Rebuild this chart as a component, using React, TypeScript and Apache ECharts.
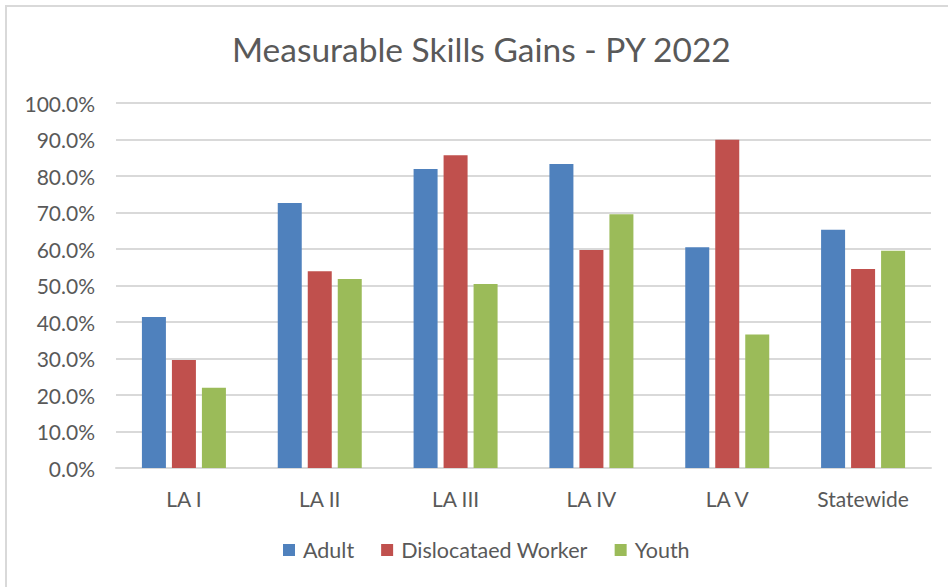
import React, { useEffect, useRef } from "react";
import * as echarts from "echarts";

const categories = ["LA I", "LA II", "LA III", "LA IV", "LA V", "Statewide"];
const adult = [41.4, 72.6, 81.9, 83.3, 60.5, 65.3];
const dislocatedWorker = [29.6, 53.9, 85.7, 59.7, 89.9, 54.5];
const youth = [22.0, 51.8, 50.4, 69.5, 36.6, 59.5];
const seriesNames = ["Adult", "Dislocataed Worker", "Youth"];
const colors = ["#4F81BD", "#C0504D", "#9BBB59"];

const FONT = "Lato, 'Open Sans', sans-serif";
const TEXT = "#595959";

export default function App() {
  const ref = useRef<HTMLDivElement>(null);
  useEffect(() => {
    if (!ref.current) return;
    const chart = echarts.init(ref.current, null, { renderer: "svg" });
    const data = [adult, dislocatedWorker, youth];
    chart.setOption({
      animation: false,
      backgroundColor: "#ffffff",
      textStyle: { fontFamily: FONT },
      title: {
        text: "Measurable Skills Gains - PY 2022",
        left: 227,
        top: 27,
        textStyle: { fontFamily: FONT, fontSize: 33.5, fontWeight: "normal", color: TEXT },
      },
      graphic: [
        {
          type: "rect",
          shape: { x: 6, y: 6, width: 1000, height: 1000 },
          style: { fill: "none", stroke: "#d9d9d9", lineWidth: 2 },
          silent: true,
        },
      ],
      legend: {
        data: seriesNames,
        bottom: 21,
        left: 278,
        itemWidth: 12,
        itemHeight: 12,
        itemGap: 27,
        icon: "rect",
        textStyle: { fontFamily: FONT, fontSize: 21.5, color: TEXT, padding: [0, 0, 0, 3] },
      },
      grid: { left: 116, right: 17, top: 103, bottom: 119 },
      xAxis: {
        type: "category",
        data: categories,
        axisLine: { show: true, lineStyle: { color: "#d9d9d9", width: 2 } },
        axisTick: { show: false },
        axisLabel: { fontFamily: FONT, fontSize: 21, color: TEXT, margin: 20 },
      },
      yAxis: {
        type: "value",
        min: 0,
        max: 100,
        interval: 10,
        axisLine: { show: false },
        axisTick: { show: false },
        splitLine: { lineStyle: { color: "#d9d9d9", width: 2 } },
        axisLabel: {
          fontFamily: FONT,
          fontSize: 21,
          color: TEXT,
          margin: 21,
          formatter: (v: number) => v.toFixed(1) + "%",
        },
      },
      series: seriesNames.map((name, i) => ({
        name,
        type: "bar",
        data: data[i],
        barWidth: 24,
        barGap: "25%",
        itemStyle: { color: colors[i] },
      })),
    });
    return () => chart.dispose();
  }, []);
  return (
    <div
      ref={ref}
      style={{ position: "fixed", left: 0, top: 0, width: 948, height: 587 }}
    />
  );
}
